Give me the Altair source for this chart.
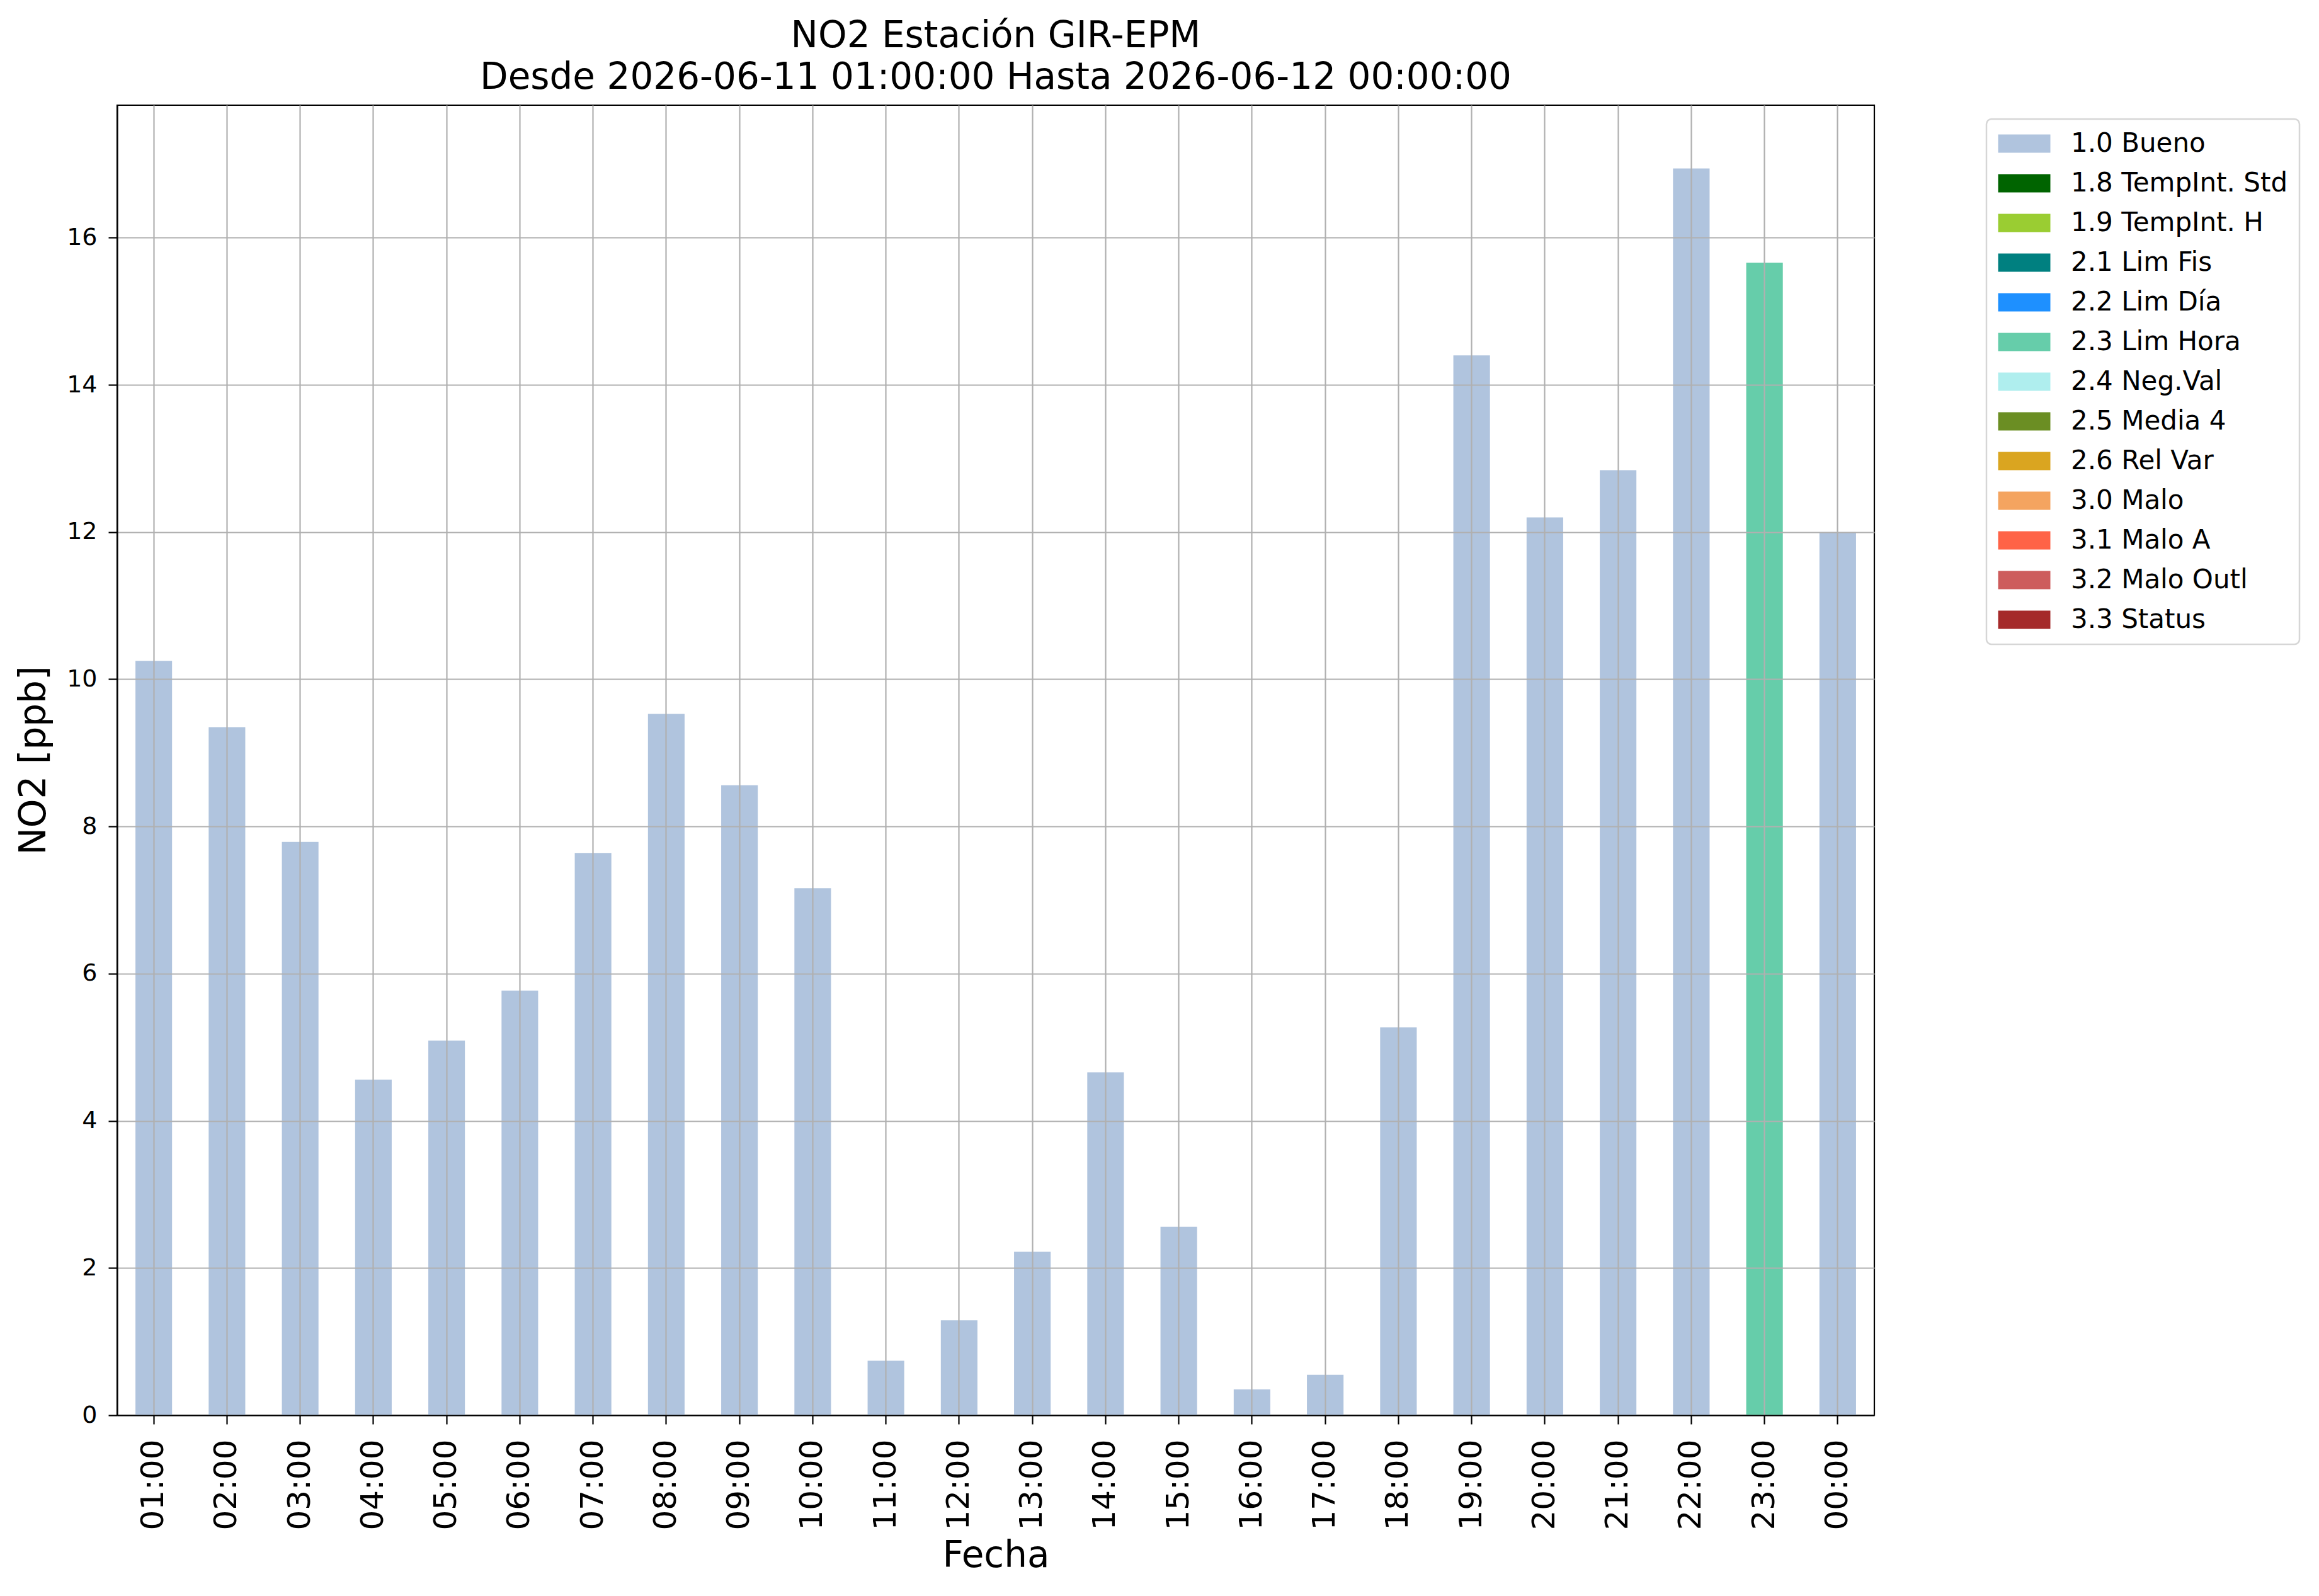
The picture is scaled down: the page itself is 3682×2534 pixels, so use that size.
import altair as alt
import pandas as pd

hours = ["01:00", "02:00", "03:00", "04:00", "05:00", "06:00", "07:00", "08:00",
         "09:00", "10:00", "11:00", "12:00", "13:00", "14:00", "15:00", "16:00",
         "17:00", "18:00", "19:00", "20:00", "21:00", "22:00", "23:00", "00:00"]
no2 = [10.25, 9.35, 7.79, 4.56, 5.09, 5.77, 7.64, 9.53, 8.56, 7.16, 0.74, 1.29,
       2.22, 4.66, 2.56, 0.35, 0.55, 5.27, 14.40, 12.20, 12.84, 16.94, 15.66, 12.0]
flags = ["1.0 Bueno"] * 22 + ["2.3 Lim Hora", "1.0 Bueno"]

flag_names = ["1.0 Bueno", "1.8 TempInt. Std", "1.9 TempInt. H", "2.1 Lim Fis",
              "2.2 Lim Día", "2.3 Lim Hora", "2.4 Neg.Val", "2.5 Media 4",
              "2.6 Rel Var", "3.0 Malo", "3.1 Malo A", "3.2 Malo Outl", "3.3 Status"]
flag_colors = ["#B0C4DE", "#006400", "#9ACD32", "#008080", "#1E90FF", "#66CDAA",
               "#AFEEEE", "#6B8E23", "#DAA520", "#F4A460", "#FF6347", "#CD5C5C",
               "#A52A2A"]

df = pd.DataFrame({"Fecha": hours, "NO2": no2, "Flag": flags})

FONT = "DejaVu Sans"

chart = alt.Chart(df).mark_bar(opacity=1).encode(
    x=alt.X("Fecha:N", sort=hours,
            scale=alt.Scale(paddingInner=0.5, paddingOuter=0.25),
            axis=alt.Axis(title="Fecha", labelAngle=270, grid=True, bandPosition=0.5,
                          labelFontSize=50, titleFontSize=58, labelPadding=24,
                          titlePadding=12, zindex=2)),
    y=alt.Y("NO2:Q", scale=alt.Scale(domain=[0, 17.8], nice=False, zero=True),
            axis=alt.Axis(title="NO2 [ppb]", values=[0, 2, 4, 6, 8, 10, 12, 14, 16],
                          labelFontSize=38, titleFontSize=58, labelPadding=18,
                          titlePadding=22, zindex=1)),
    color=alt.Color("Flag:N", sort=flag_names,
                    scale=alt.Scale(domain=flag_names, range=flag_colors),
                    legend=alt.Legend(title=None, orient="none", legendX=2968, legendY=22,
                                      symbolType="M-1.41,-1H4.31V1H-1.41Z",
                                      symbolSize=841, symbolStrokeWidth=0,
                                      symbolOpacity=1,
                                      labelFontSize=42, labelOffset=74, labelLimit=600,
                                      rowPadding=21, padding=18,
                                      strokeColor="#d6d6d6", fillColor="white",
                                      cornerRadius=8, labelBaseline="middle")),
).properties(
    width=2790, height=2080,
    title=alt.TitleParams(
        text=["NO2 Estación GIR-EPM",
              "Desde 2026-06-11 01:00:00 Hasta 2026-06-12 00:00:00"],
        fontSize=58, font=FONT, fontWeight="normal", color="black",
        lineHeight=66, anchor="middle", offset=14),
    padding={"left": 17, "top": 21, "right": 5, "bottom": 5},
).configure_view(
    stroke="black", strokeWidth=2.2
).configure_axis(
    labelFont=FONT, titleFont=FONT, labelColor="black", titleColor="black",
    titleFontWeight="normal", gridColor="#b0b0b0", gridWidth=2.2, gridOpacity=1,
    tickColor="black", tickWidth=2.2, tickSize=14, domainColor="black", domainWidth=2.2
).configure_legend(
    labelFont=FONT, labelColor="black", strokeWidth=2.5
)

chart.save("out.html", embed_options={"renderer": "svg", "actions": False})
